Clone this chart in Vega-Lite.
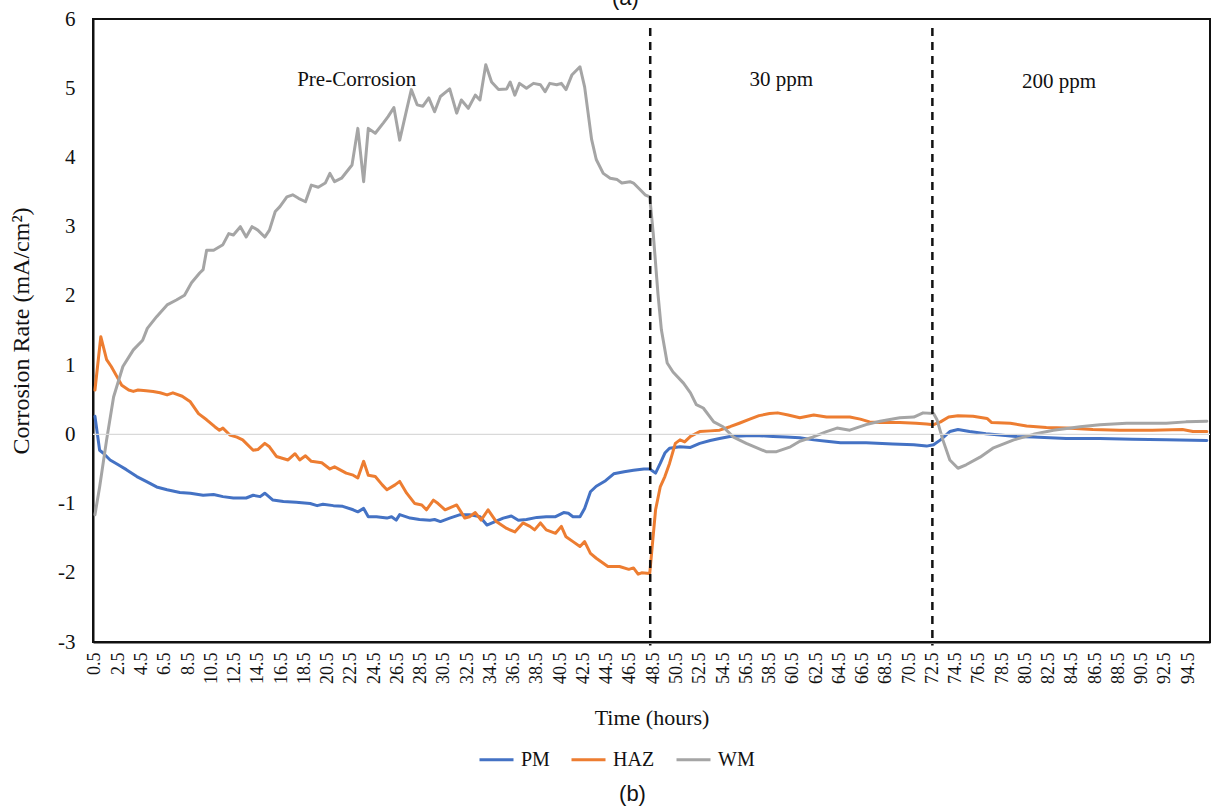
{
  "$schema": "https://vega.github.io/schema/vega-lite/v6.json",
  "width": 1117,
  "height": 623,
  "autosize": {"type": "none"},
  "padding": {"left": 93, "top": 19, "right": 2, "bottom": 169},
  "background": "white",
  "title": {
    "text": "(b)",
    "orient": "bottom",
    "anchor": "middle",
    "frame": "group",
    "font": "Liberation Sans",
    "fontSize": 22,
    "fontWeight": "normal",
    "color": "#111",
    "dx": -19,
    "offset": 14
  },
  "config": {
    "font": "Liberation Serif",
    "view": {"stroke": "#111", "strokeWidth": 2},
    "axis": {
      "domainColor": "#111",
      "domainWidth": 2,
      "ticks": false,
      "tickSize": 0,
      "grid": false,
      "labelFont": "Liberation Serif",
      "labelColor": "#111",
      "titleFont": "Liberation Serif",
      "titleColor": "#111",
      "titleFontWeight": "normal"
    },
    "axisX": {"labelOverlap": false, "labelFlush": false, "labelBound": false},
    "legend": {
      "orient": "none",
      "legendX": 385,
      "legendY": 722,
      "direction": "horizontal",
      "symbolType": "stroke",
      "symbolSize": 1156,
      "symbolStrokeWidth": 3,
      "labelFont": "Liberation Serif",
      "labelFontSize": 20,
      "labelColor": "#111",
      "labelOffset": 6,
      "columnPadding": 15
    }
  },
  "datasets": {
    "corrosion": [
      {"hour": 0.5, "rate": 0.26, "series": "PM"},
      {"hour": 0.9, "rate": -0.23, "series": "PM"},
      {"hour": 1.2, "rate": -0.27, "series": "PM"},
      {"hour": 1.8, "rate": -0.37, "series": "PM"},
      {"hour": 2.5, "rate": -0.44, "series": "PM"},
      {"hour": 3.2, "rate": -0.51, "series": "PM"},
      {"hour": 4.1, "rate": -0.61, "series": "PM"},
      {"hour": 4.9, "rate": -0.68, "series": "PM"},
      {"hour": 5.8, "rate": -0.76, "series": "PM"},
      {"hour": 6.7, "rate": -0.8, "series": "PM"},
      {"hour": 7.8, "rate": -0.84, "series": "PM"},
      {"hour": 8.7, "rate": -0.85, "series": "PM"},
      {"hour": 9.8, "rate": -0.88, "series": "PM"},
      {"hour": 10.7, "rate": -0.87, "series": "PM"},
      {"hour": 11.5, "rate": -0.9, "series": "PM"},
      {"hour": 12.4, "rate": -0.92, "series": "PM"},
      {"hour": 13.5, "rate": -0.92, "series": "PM"},
      {"hour": 14.1, "rate": -0.88, "series": "PM"},
      {"hour": 14.7, "rate": -0.9, "series": "PM"},
      {"hour": 15.1, "rate": -0.85, "series": "PM"},
      {"hour": 15.8, "rate": -0.95, "series": "PM"},
      {"hour": 16.7, "rate": -0.97, "series": "PM"},
      {"hour": 17.8, "rate": -0.98, "series": "PM"},
      {"hour": 19.0, "rate": -1.0, "series": "PM"},
      {"hour": 19.6, "rate": -1.03, "series": "PM"},
      {"hour": 20.1, "rate": -1.01, "series": "PM"},
      {"hour": 21.0, "rate": -1.03, "series": "PM"},
      {"hour": 21.8, "rate": -1.04, "series": "PM"},
      {"hour": 22.7, "rate": -1.09, "series": "PM"},
      {"hour": 23.1, "rate": -1.12, "series": "PM"},
      {"hour": 23.6, "rate": -1.07, "series": "PM"},
      {"hour": 24.0, "rate": -1.19, "series": "PM"},
      {"hour": 24.7, "rate": -1.19, "series": "PM"},
      {"hour": 25.6, "rate": -1.21, "series": "PM"},
      {"hour": 26.0, "rate": -1.19, "series": "PM"},
      {"hour": 26.4, "rate": -1.24, "series": "PM"},
      {"hour": 26.7, "rate": -1.16, "series": "PM"},
      {"hour": 27.6, "rate": -1.21, "series": "PM"},
      {"hour": 28.4, "rate": -1.23, "series": "PM"},
      {"hour": 29.3, "rate": -1.24, "series": "PM"},
      {"hour": 29.7, "rate": -1.23, "series": "PM"},
      {"hour": 30.2, "rate": -1.26, "series": "PM"},
      {"hour": 31.0, "rate": -1.21, "series": "PM"},
      {"hour": 31.9, "rate": -1.16, "series": "PM"},
      {"hour": 32.7, "rate": -1.16, "series": "PM"},
      {"hour": 33.6, "rate": -1.19, "series": "PM"},
      {"hour": 34.2, "rate": -1.31, "series": "PM"},
      {"hour": 34.9, "rate": -1.26, "series": "PM"},
      {"hour": 35.6, "rate": -1.21, "series": "PM"},
      {"hour": 36.3, "rate": -1.18, "series": "PM"},
      {"hour": 36.9, "rate": -1.24, "series": "PM"},
      {"hour": 37.6, "rate": -1.23, "series": "PM"},
      {"hour": 38.5, "rate": -1.2, "series": "PM"},
      {"hour": 39.3, "rate": -1.19, "series": "PM"},
      {"hour": 40.1, "rate": -1.19, "series": "PM"},
      {"hour": 40.8, "rate": -1.13, "series": "PM"},
      {"hour": 41.2, "rate": -1.14, "series": "PM"},
      {"hour": 41.6, "rate": -1.19, "series": "PM"},
      {"hour": 42.2, "rate": -1.19, "series": "PM"},
      {"hour": 42.6, "rate": -1.07, "series": "PM"},
      {"hour": 43.1, "rate": -0.83, "series": "PM"},
      {"hour": 43.6, "rate": -0.75, "series": "PM"},
      {"hour": 44.4, "rate": -0.67, "series": "PM"},
      {"hour": 45.1, "rate": -0.57, "series": "PM"},
      {"hour": 46.0, "rate": -0.54, "series": "PM"},
      {"hour": 46.8, "rate": -0.52, "series": "PM"},
      {"hour": 47.7, "rate": -0.5, "series": "PM"},
      {"hour": 48.2, "rate": -0.5, "series": "PM"},
      {"hour": 48.7, "rate": -0.56, "series": "PM"},
      {"hour": 49.1, "rate": -0.42, "series": "PM"},
      {"hour": 49.5, "rate": -0.27, "series": "PM"},
      {"hour": 49.9, "rate": -0.2, "series": "PM"},
      {"hour": 50.8, "rate": -0.18, "series": "PM"},
      {"hour": 51.7, "rate": -0.19, "series": "PM"},
      {"hour": 52.5, "rate": -0.13, "series": "PM"},
      {"hour": 53.4, "rate": -0.09, "series": "PM"},
      {"hour": 54.2, "rate": -0.06, "series": "PM"},
      {"hour": 55.1, "rate": -0.03, "series": "PM"},
      {"hour": 56.5, "rate": -0.02, "series": "PM"},
      {"hour": 57.6, "rate": -0.02, "series": "PM"},
      {"hour": 58.8, "rate": -0.03, "series": "PM"},
      {"hour": 59.9, "rate": -0.04, "series": "PM"},
      {"hour": 61.1, "rate": -0.05, "series": "PM"},
      {"hour": 62.3, "rate": -0.08, "series": "PM"},
      {"hour": 63.4, "rate": -0.1, "series": "PM"},
      {"hour": 64.6, "rate": -0.12, "series": "PM"},
      {"hour": 66.8, "rate": -0.12, "series": "PM"},
      {"hour": 69.1, "rate": -0.14, "series": "PM"},
      {"hour": 70.9, "rate": -0.15, "series": "PM"},
      {"hour": 72.0, "rate": -0.17, "series": "PM"},
      {"hour": 72.6, "rate": -0.15, "series": "PM"},
      {"hour": 73.2, "rate": -0.08, "series": "PM"},
      {"hour": 74.0, "rate": 0.04, "series": "PM"},
      {"hour": 74.7, "rate": 0.07, "series": "PM"},
      {"hour": 75.7, "rate": 0.04, "series": "PM"},
      {"hour": 77.1, "rate": 0.01, "series": "PM"},
      {"hour": 78.3, "rate": -0.01, "series": "PM"},
      {"hour": 79.7, "rate": -0.03, "series": "PM"},
      {"hour": 81.2, "rate": -0.04, "series": "PM"},
      {"hour": 84.0, "rate": -0.06, "series": "PM"},
      {"hour": 86.9, "rate": -0.06, "series": "PM"},
      {"hour": 89.7, "rate": -0.07, "series": "PM"},
      {"hour": 92.6, "rate": -0.08, "series": "PM"},
      {"hour": 96.1, "rate": -0.09, "series": "PM"},

      {"hour": 0.5, "rate": 0.64, "series": "HAZ"},
      {"hour": 1.0, "rate": 1.41, "series": "HAZ"},
      {"hour": 1.5, "rate": 1.08, "series": "HAZ"},
      {"hour": 1.9, "rate": 0.98, "series": "HAZ"},
      {"hour": 2.4, "rate": 0.83, "series": "HAZ"},
      {"hour": 2.8, "rate": 0.71, "series": "HAZ"},
      {"hour": 3.4, "rate": 0.64, "series": "HAZ"},
      {"hour": 3.8, "rate": 0.62, "series": "HAZ"},
      {"hour": 4.2, "rate": 0.64, "series": "HAZ"},
      {"hour": 4.9, "rate": 0.63, "series": "HAZ"},
      {"hour": 5.5, "rate": 0.62, "series": "HAZ"},
      {"hour": 6.1, "rate": 0.6, "series": "HAZ"},
      {"hour": 6.7, "rate": 0.57, "series": "HAZ"},
      {"hour": 7.2, "rate": 0.6, "series": "HAZ"},
      {"hour": 8.0, "rate": 0.55, "series": "HAZ"},
      {"hour": 8.7, "rate": 0.47, "series": "HAZ"},
      {"hour": 9.4, "rate": 0.3, "series": "HAZ"},
      {"hour": 10.1, "rate": 0.21, "series": "HAZ"},
      {"hour": 10.8, "rate": 0.11, "series": "HAZ"},
      {"hour": 11.2, "rate": 0.06, "series": "HAZ"},
      {"hour": 11.5, "rate": 0.09, "series": "HAZ"},
      {"hour": 12.1, "rate": -0.01, "series": "HAZ"},
      {"hour": 12.7, "rate": -0.04, "series": "HAZ"},
      {"hour": 13.2, "rate": -0.08, "series": "HAZ"},
      {"hour": 14.1, "rate": -0.23, "series": "HAZ"},
      {"hour": 14.5, "rate": -0.22, "series": "HAZ"},
      {"hour": 15.1, "rate": -0.13, "series": "HAZ"},
      {"hour": 15.5, "rate": -0.18, "series": "HAZ"},
      {"hour": 16.1, "rate": -0.32, "series": "HAZ"},
      {"hour": 17.1, "rate": -0.37, "series": "HAZ"},
      {"hour": 17.7, "rate": -0.28, "series": "HAZ"},
      {"hour": 18.1, "rate": -0.37, "series": "HAZ"},
      {"hour": 18.6, "rate": -0.31, "series": "HAZ"},
      {"hour": 19.1, "rate": -0.39, "series": "HAZ"},
      {"hour": 20.0, "rate": -0.41, "series": "HAZ"},
      {"hour": 20.7, "rate": -0.5, "series": "HAZ"},
      {"hour": 21.1, "rate": -0.47, "series": "HAZ"},
      {"hour": 22.1, "rate": -0.56, "series": "HAZ"},
      {"hour": 22.7, "rate": -0.59, "series": "HAZ"},
      {"hour": 23.1, "rate": -0.63, "series": "HAZ"},
      {"hour": 23.6, "rate": -0.39, "series": "HAZ"},
      {"hour": 24.0, "rate": -0.59, "series": "HAZ"},
      {"hour": 24.6, "rate": -0.61, "series": "HAZ"},
      {"hour": 25.2, "rate": -0.73, "series": "HAZ"},
      {"hour": 25.6, "rate": -0.8, "series": "HAZ"},
      {"hour": 26.3, "rate": -0.73, "series": "HAZ"},
      {"hour": 26.7, "rate": -0.68, "series": "HAZ"},
      {"hour": 27.3, "rate": -0.85, "series": "HAZ"},
      {"hour": 28.0, "rate": -1.0, "series": "HAZ"},
      {"hour": 28.6, "rate": -1.02, "series": "HAZ"},
      {"hour": 29.0, "rate": -1.09, "series": "HAZ"},
      {"hour": 29.6, "rate": -0.95, "series": "HAZ"},
      {"hour": 30.0, "rate": -1.0, "series": "HAZ"},
      {"hour": 30.6, "rate": -1.09, "series": "HAZ"},
      {"hour": 31.6, "rate": -1.02, "series": "HAZ"},
      {"hour": 32.3, "rate": -1.21, "series": "HAZ"},
      {"hour": 32.7, "rate": -1.19, "series": "HAZ"},
      {"hour": 33.2, "rate": -1.13, "series": "HAZ"},
      {"hour": 33.7, "rate": -1.24, "series": "HAZ"},
      {"hour": 34.3, "rate": -1.09, "series": "HAZ"},
      {"hour": 35.0, "rate": -1.26, "series": "HAZ"},
      {"hour": 35.9, "rate": -1.36, "series": "HAZ"},
      {"hour": 36.6, "rate": -1.41, "series": "HAZ"},
      {"hour": 37.3, "rate": -1.28, "series": "HAZ"},
      {"hour": 37.9, "rate": -1.33, "series": "HAZ"},
      {"hour": 38.3, "rate": -1.38, "series": "HAZ"},
      {"hour": 38.8, "rate": -1.28, "series": "HAZ"},
      {"hour": 39.3, "rate": -1.38, "series": "HAZ"},
      {"hour": 40.1, "rate": -1.43, "series": "HAZ"},
      {"hour": 40.6, "rate": -1.33, "series": "HAZ"},
      {"hour": 41.0, "rate": -1.48, "series": "HAZ"},
      {"hour": 41.6, "rate": -1.55, "series": "HAZ"},
      {"hour": 42.2, "rate": -1.62, "series": "HAZ"},
      {"hour": 42.6, "rate": -1.55, "series": "HAZ"},
      {"hour": 43.1, "rate": -1.72, "series": "HAZ"},
      {"hour": 43.6, "rate": -1.79, "series": "HAZ"},
      {"hour": 44.6, "rate": -1.91, "series": "HAZ"},
      {"hour": 45.6, "rate": -1.91, "series": "HAZ"},
      {"hour": 46.4, "rate": -1.95, "series": "HAZ"},
      {"hour": 46.8, "rate": -1.93, "series": "HAZ"},
      {"hour": 47.2, "rate": -2.02, "series": "HAZ"},
      {"hour": 47.5, "rate": -2.0, "series": "HAZ"},
      {"hour": 48.2, "rate": -2.01, "series": "HAZ"},
      {"hour": 48.7, "rate": -1.09, "series": "HAZ"},
      {"hour": 49.1, "rate": -0.76, "series": "HAZ"},
      {"hour": 49.5, "rate": -0.61, "series": "HAZ"},
      {"hour": 49.9, "rate": -0.42, "series": "HAZ"},
      {"hour": 50.4, "rate": -0.13, "series": "HAZ"},
      {"hour": 50.8, "rate": -0.08, "series": "HAZ"},
      {"hour": 51.2, "rate": -0.11, "series": "HAZ"},
      {"hour": 51.7, "rate": -0.03, "series": "HAZ"},
      {"hour": 52.5, "rate": 0.04, "series": "HAZ"},
      {"hour": 53.4, "rate": 0.05, "series": "HAZ"},
      {"hour": 54.2, "rate": 0.06, "series": "HAZ"},
      {"hour": 55.1, "rate": 0.11, "series": "HAZ"},
      {"hour": 55.9, "rate": 0.16, "series": "HAZ"},
      {"hour": 56.8, "rate": 0.22, "series": "HAZ"},
      {"hour": 57.6, "rate": 0.27, "series": "HAZ"},
      {"hour": 58.5, "rate": 0.3, "series": "HAZ"},
      {"hour": 59.2, "rate": 0.31, "series": "HAZ"},
      {"hour": 60.1, "rate": 0.28, "series": "HAZ"},
      {"hour": 61.1, "rate": 0.24, "series": "HAZ"},
      {"hour": 62.3, "rate": 0.28, "series": "HAZ"},
      {"hour": 63.4, "rate": 0.25, "series": "HAZ"},
      {"hour": 64.6, "rate": 0.25, "series": "HAZ"},
      {"hour": 65.4, "rate": 0.25, "series": "HAZ"},
      {"hour": 66.3, "rate": 0.22, "series": "HAZ"},
      {"hour": 67.1, "rate": 0.18, "series": "HAZ"},
      {"hour": 68.0, "rate": 0.17, "series": "HAZ"},
      {"hour": 69.7, "rate": 0.17, "series": "HAZ"},
      {"hour": 71.1, "rate": 0.16, "series": "HAZ"},
      {"hour": 72.0, "rate": 0.15, "series": "HAZ"},
      {"hour": 72.6, "rate": 0.14, "series": "HAZ"},
      {"hour": 73.2, "rate": 0.18, "series": "HAZ"},
      {"hour": 73.9, "rate": 0.25, "series": "HAZ"},
      {"hour": 74.7, "rate": 0.27, "series": "HAZ"},
      {"hour": 76.0, "rate": 0.26, "series": "HAZ"},
      {"hour": 77.2, "rate": 0.23, "series": "HAZ"},
      {"hour": 77.6, "rate": 0.17, "series": "HAZ"},
      {"hour": 79.2, "rate": 0.16, "series": "HAZ"},
      {"hour": 80.6, "rate": 0.12, "series": "HAZ"},
      {"hour": 82.3, "rate": 0.1, "series": "HAZ"},
      {"hour": 84.0, "rate": 0.09, "series": "HAZ"},
      {"hour": 86.3, "rate": 0.07, "series": "HAZ"},
      {"hour": 88.6, "rate": 0.06, "series": "HAZ"},
      {"hour": 91.4, "rate": 0.06, "series": "HAZ"},
      {"hour": 94.0, "rate": 0.07, "series": "HAZ"},
      {"hour": 94.9, "rate": 0.04, "series": "HAZ"},
      {"hour": 96.1, "rate": 0.04, "series": "HAZ"},

      {"hour": 0.5, "rate": -1.16, "series": "WM"},
      {"hour": 0.9, "rate": -0.76, "series": "WM"},
      {"hour": 1.5, "rate": -0.08, "series": "WM"},
      {"hour": 2.1, "rate": 0.54, "series": "WM"},
      {"hour": 2.9, "rate": 0.98, "series": "WM"},
      {"hour": 3.8, "rate": 1.22, "series": "WM"},
      {"hour": 4.6, "rate": 1.36, "series": "WM"},
      {"hour": 5.0, "rate": 1.53, "series": "WM"},
      {"hour": 5.8, "rate": 1.7, "series": "WM"},
      {"hour": 6.7, "rate": 1.87, "series": "WM"},
      {"hour": 7.5, "rate": 1.94, "series": "WM"},
      {"hour": 8.2, "rate": 2.01, "series": "WM"},
      {"hour": 8.8, "rate": 2.19, "series": "WM"},
      {"hour": 9.5, "rate": 2.33, "series": "WM"},
      {"hour": 9.8, "rate": 2.38, "series": "WM"},
      {"hour": 10.1, "rate": 2.66, "series": "WM"},
      {"hour": 10.7, "rate": 2.66, "series": "WM"},
      {"hour": 11.5, "rate": 2.74, "series": "WM"},
      {"hour": 12.0, "rate": 2.9, "series": "WM"},
      {"hour": 12.4, "rate": 2.88, "series": "WM"},
      {"hour": 13.0, "rate": 3.0, "series": "WM"},
      {"hour": 13.5, "rate": 2.85, "series": "WM"},
      {"hour": 14.0, "rate": 3.0, "series": "WM"},
      {"hour": 14.5, "rate": 2.95, "series": "WM"},
      {"hour": 15.1, "rate": 2.85, "series": "WM"},
      {"hour": 15.5, "rate": 2.95, "series": "WM"},
      {"hour": 16.0, "rate": 3.22, "series": "WM"},
      {"hour": 16.4, "rate": 3.29, "series": "WM"},
      {"hour": 17.0, "rate": 3.43, "series": "WM"},
      {"hour": 17.5, "rate": 3.46, "series": "WM"},
      {"hour": 18.0, "rate": 3.41, "series": "WM"},
      {"hour": 18.6, "rate": 3.36, "series": "WM"},
      {"hour": 19.1, "rate": 3.6, "series": "WM"},
      {"hour": 19.7, "rate": 3.57, "series": "WM"},
      {"hour": 20.3, "rate": 3.63, "series": "WM"},
      {"hour": 20.7, "rate": 3.77, "series": "WM"},
      {"hour": 21.1, "rate": 3.65, "series": "WM"},
      {"hour": 21.7, "rate": 3.7, "series": "WM"},
      {"hour": 22.6, "rate": 3.89, "series": "WM"},
      {"hour": 23.1, "rate": 4.42, "series": "WM"},
      {"hour": 23.6, "rate": 3.65, "series": "WM"},
      {"hour": 24.0, "rate": 4.42, "series": "WM"},
      {"hour": 24.6, "rate": 4.35, "series": "WM"},
      {"hour": 25.3, "rate": 4.5, "series": "WM"},
      {"hour": 25.7, "rate": 4.59, "series": "WM"},
      {"hour": 26.2, "rate": 4.72, "series": "WM"},
      {"hour": 26.7, "rate": 4.25, "series": "WM"},
      {"hour": 27.3, "rate": 4.69, "series": "WM"},
      {"hour": 27.7, "rate": 4.98, "series": "WM"},
      {"hour": 28.2, "rate": 4.76, "series": "WM"},
      {"hour": 28.7, "rate": 4.74, "series": "WM"},
      {"hour": 29.2, "rate": 4.86, "series": "WM"},
      {"hour": 29.7, "rate": 4.66, "series": "WM"},
      {"hour": 30.2, "rate": 4.88, "series": "WM"},
      {"hour": 31.0, "rate": 4.99, "series": "WM"},
      {"hour": 31.6, "rate": 4.64, "series": "WM"},
      {"hour": 32.0, "rate": 4.83, "series": "WM"},
      {"hour": 32.6, "rate": 4.71, "series": "WM"},
      {"hour": 33.2, "rate": 4.9, "series": "WM"},
      {"hour": 33.6, "rate": 4.83, "series": "WM"},
      {"hour": 34.1, "rate": 5.34, "series": "WM"},
      {"hour": 34.6, "rate": 5.09, "series": "WM"},
      {"hour": 35.2, "rate": 4.98, "series": "WM"},
      {"hour": 35.9, "rate": 4.99, "series": "WM"},
      {"hour": 36.2, "rate": 5.09, "series": "WM"},
      {"hour": 36.6, "rate": 4.9, "series": "WM"},
      {"hour": 37.0, "rate": 5.07, "series": "WM"},
      {"hour": 37.6, "rate": 5.0, "series": "WM"},
      {"hour": 38.2, "rate": 5.07, "series": "WM"},
      {"hour": 38.8, "rate": 5.05, "series": "WM"},
      {"hour": 39.2, "rate": 4.95, "series": "WM"},
      {"hour": 39.6, "rate": 5.07, "series": "WM"},
      {"hour": 40.2, "rate": 5.05, "series": "WM"},
      {"hour": 40.6, "rate": 5.07, "series": "WM"},
      {"hour": 41.0, "rate": 4.98, "series": "WM"},
      {"hour": 41.5, "rate": 5.19, "series": "WM"},
      {"hour": 42.2, "rate": 5.31, "series": "WM"},
      {"hour": 42.6, "rate": 5.02, "series": "WM"},
      {"hour": 42.9, "rate": 4.64, "series": "WM"},
      {"hour": 43.2, "rate": 4.26, "series": "WM"},
      {"hour": 43.6, "rate": 3.97, "series": "WM"},
      {"hour": 44.2, "rate": 3.77, "series": "WM"},
      {"hour": 44.8, "rate": 3.7, "series": "WM"},
      {"hour": 45.4, "rate": 3.68, "series": "WM"},
      {"hour": 45.8, "rate": 3.63, "series": "WM"},
      {"hour": 46.5, "rate": 3.65, "series": "WM"},
      {"hour": 46.8, "rate": 3.63, "series": "WM"},
      {"hour": 47.4, "rate": 3.53, "series": "WM"},
      {"hour": 47.8, "rate": 3.46, "series": "WM"},
      {"hour": 48.2, "rate": 3.43, "series": "WM"},
      {"hour": 48.5, "rate": 2.9, "series": "WM"},
      {"hour": 48.9, "rate": 2.04, "series": "WM"},
      {"hour": 49.2, "rate": 1.51, "series": "WM"},
      {"hour": 49.7, "rate": 1.03, "series": "WM"},
      {"hour": 50.2, "rate": 0.9, "series": "WM"},
      {"hour": 51.1, "rate": 0.74, "series": "WM"},
      {"hour": 51.7, "rate": 0.6, "series": "WM"},
      {"hour": 52.2, "rate": 0.43, "series": "WM"},
      {"hour": 52.8, "rate": 0.38, "series": "WM"},
      {"hour": 53.7, "rate": 0.18, "series": "WM"},
      {"hour": 54.5, "rate": 0.11, "series": "WM"},
      {"hour": 55.4, "rate": -0.04, "series": "WM"},
      {"hour": 56.5, "rate": -0.13, "series": "WM"},
      {"hour": 58.2, "rate": -0.25, "series": "WM"},
      {"hour": 59.1, "rate": -0.25, "series": "WM"},
      {"hour": 60.3, "rate": -0.18, "series": "WM"},
      {"hour": 61.1, "rate": -0.1, "series": "WM"},
      {"hour": 62.2, "rate": -0.04, "series": "WM"},
      {"hour": 63.4, "rate": 0.04, "series": "WM"},
      {"hour": 64.3, "rate": 0.09, "series": "WM"},
      {"hour": 65.4, "rate": 0.06, "series": "WM"},
      {"hour": 66.8, "rate": 0.14, "series": "WM"},
      {"hour": 68.0, "rate": 0.19, "series": "WM"},
      {"hour": 69.7, "rate": 0.24, "series": "WM"},
      {"hour": 70.9, "rate": 0.25, "series": "WM"},
      {"hour": 71.7, "rate": 0.31, "series": "WM"},
      {"hour": 72.6, "rate": 0.3, "series": "WM"},
      {"hour": 72.9, "rate": 0.21, "series": "WM"},
      {"hour": 73.4, "rate": -0.08, "series": "WM"},
      {"hour": 74.0, "rate": -0.37, "series": "WM"},
      {"hour": 74.7, "rate": -0.49, "series": "WM"},
      {"hour": 75.4, "rate": -0.44, "series": "WM"},
      {"hour": 76.6, "rate": -0.33, "series": "WM"},
      {"hour": 77.7, "rate": -0.2, "series": "WM"},
      {"hour": 79.5, "rate": -0.08, "series": "WM"},
      {"hour": 81.2, "rate": 0.0, "series": "WM"},
      {"hour": 82.9, "rate": 0.06, "series": "WM"},
      {"hour": 85.2, "rate": 0.11, "series": "WM"},
      {"hour": 86.9, "rate": 0.14, "series": "WM"},
      {"hour": 89.2, "rate": 0.16, "series": "WM"},
      {"hour": 90.9, "rate": 0.16, "series": "WM"},
      {"hour": 92.6, "rate": 0.16, "series": "WM"},
      {"hour": 94.3, "rate": 0.18, "series": "WM"},
      {"hour": 96.1, "rate": 0.19, "series": "WM"}
    ],
    "stages": [
      {"hour": 48.24, "stage": "30 ppm start"},
      {"hour": 72.5, "stage": "200 ppm start"}
    ],
    "stageLabels": [
      {"label": "Pre-Corrosion", "hour": 23.0, "rate": 5.12},
      {"label": "30 ppm", "hour": 59.5, "rate": 5.12},
      {"label": "200 ppm", "hour": 83.4, "rate": 5.09}
    ],
    "captions": [
      {"label": "(a)", "hour": 46.1, "rate": 6.2}
    ]
  },
  "encoding": {
    "x": {
      "field": "hour",
      "type": "quantitative",
      "scale": {"domain": [0.33, 96.37], "nice": false, "zero": false},
      "axis": {
        "title": "Time (hours)",
        "titleFontSize": 22,
        "titlePadding": 24,
        "values": [0.5, 2.5, 4.5, 6.5, 8.5, 10.5, 12.5, 14.5, 16.5, 18.5, 20.5, 22.5, 24.5, 26.5, 28.5, 30.5, 32.5, 34.5, 36.5, 38.5, 40.5, 42.5, 44.5, 46.5, 48.5, 50.5, 52.5, 54.5, 56.5, 58.5, 60.5, 62.5, 64.5, 66.5, 68.5, 70.5, 72.5, 74.5, 76.5, 78.5, 80.5, 82.5, 84.5, 86.5, 88.5, 90.5, 92.5, 94.5],
        "format": ".1f",
        "labelAngle": 270,
        "labelFontSize": 18,
        "labelPadding": 10,
        "labelOverlap": false,
        "labelFlush": false,
        "labelBound": false
      }
    }
  },
  "layer": [
    {
      "data": {"name": "corrosion"},
      "mark": {"type": "line", "strokeWidth": 3, "strokeJoin": "round", "strokeCap": "round"},
      "encoding": {
        "y": {
          "field": "rate",
          "type": "quantitative",
          "scale": {"domain": [-3, 6], "nice": false, "zero": false},
          "axis": {
            "title": "Corrosion Rate (mA/cm²)",
            "titleFontSize": 24,
            "titlePadding": 24,
            "values": [-3, -2, -1, 0, 1, 2, 3, 4, 5, 6],
            "labelExpr": "datum.value + ''",
            "labelFontSize": 21,
            "labelPadding": 18
          }
        },
        "color": {
          "field": "series",
          "type": "nominal",
          "title": null,
          "sort": ["PM", "HAZ", "WM"],
          "scale": {"domain": ["PM", "HAZ", "WM"], "range": ["#4472C4", "#ED7D31", "#A5A5A5"]}
        },
        "order": {"field": "hour", "type": "quantitative"}
      }
    },
    {
      "data": {"values": [{"rate": 0}]},
      "mark": {"type": "rule", "color": "#d9d9d9", "strokeWidth": 1.2},
      "encoding": {"x": null, "y": {"field": "rate", "type": "quantitative"}}
    },
    {
      "data": {"name": "stages"},
      "mark": {"type": "rule", "color": "#111", "strokeWidth": 2.5, "strokeDash": [8, 6]},
      "encoding": {
        "y": {"datum": 5.87, "type": "quantitative"},
        "y2": {"datum": -3.05}
      }
    },
    {
      "data": {"name": "stageLabels"},
      "mark": {"type": "text", "font": "Liberation Serif", "fontSize": 21, "color": "#111", "align": "center", "baseline": "middle"},
      "encoding": {
        "y": {"field": "rate", "type": "quantitative"},
        "text": {"field": "label"}
      }
    },
    {
      "data": {"name": "captions"},
      "mark": {"type": "text", "font": "Liberation Sans", "fontSize": 22, "color": "#111", "align": "center", "baseline": "alphabetic"},
      "encoding": {
        "y": {"field": "rate", "type": "quantitative"},
        "text": {"field": "label"}
      }
    }
  ]
}
